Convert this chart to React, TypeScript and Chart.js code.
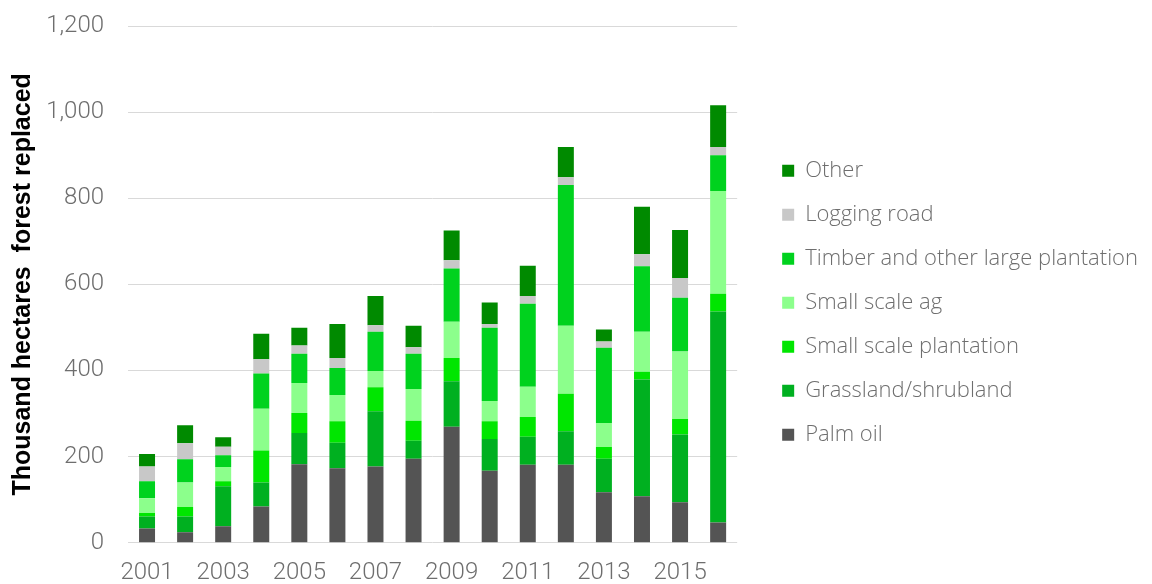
import { useEffect, useRef } from 'react';
import { Chart, registerables } from 'chart.js';

Chart.register(...registerables);

const years = ['2001', '2002', '2003', '2004', '2005', '2006', '2007', '2008', '2009', '2010', '2011', '2012', '2013', '2014', '2015', '2016'];
const xTickLabels = ['2001', '', '2003', '', '2005', '', '2007', '', '2009', '', '2011', '', '2013', '', '2015', ''];
const yTicks = [0, 200, 400, 600, 800, 1000, 1200];

const palmOil = [33, 24, 38, 84, 182, 173, 177, 195, 269, 167, 181, 181, 117, 108, 94, 47];
const grassland = [28, 37, 93, 56, 73, 59, 128, 42, 106, 74, 65, 78, 78, 271, 157, 490];
const smallPlantation = [8, 22, 12, 74, 46, 50, 56, 46, 54, 41, 46, 87, 27, 18, 36, 41];
const smallAg = [34, 57, 33, 97, 70, 61, 38, 74, 84, 47, 70, 158, 56, 93, 157, 239];
const timber = [40, 54, 27, 82, 68, 63, 91, 82, 124, 170, 193, 327, 175, 152, 125, 83];
const loggingRoad = [34, 37, 20, 33, 19, 23, 15, 15, 19, 9, 18, 18, 14, 28, 46, 19];
const other = [29, 42, 22, 59, 41, 79, 68, 50, 69, 50, 70, 70, 28, 110, 111, 97];

const seriesNames = ['Palm oil', 'Grassland/shrubland', 'Small scale plantation', 'Small scale ag', 'Timber and other large plantation', 'Logging road', 'Other'];
const seriesValues = [palmOil, grassland, smallPlantation, smallAg, timber, loggingRoad, other];
const seriesColors = ['#545454', '#00B020', '#00E600', '#8CFF8C', '#00D21E', '#C8C8C8', '#008A00'];

export default function App() {
  const ref = useRef<HTMLCanvasElement>(null);

  useEffect(() => {
    const lightFont = 'Roboto, "Noto Sans", sans-serif';
    const legendFont = '"Open Sans", Roboto, sans-serif';
    const chart = new Chart(ref.current!, {
      type: 'bar',
      data: {
        labels: years,
        datasets: seriesNames.map((name, i) => ({
          label: name,
          data: seriesValues[i],
          backgroundColor: seriesColors[i],
          borderWidth: 0,
          barPercentage: 0.42,
          categoryPercentage: 1,
        })),
      },
      options: {
        animation: false,
        responsive: false,
        maintainAspectRatio: false,
        layout: { padding: { top: 26, bottom: 16.5, left: 0, right: 4 } },
        plugins: {
          tooltip: { enabled: false },
          legend: {
            position: 'right',
            reverse: true,
            fullSize: false,
            align: 'center',
            maxWidth: 600,
            title: { display: true, text: ' ', padding: 0, font: { size: 37, lineHeight: 1 } },
            labels: {
              boxWidth: 12,
              boxHeight: 12,
              padding: 22,
              color: '#6e6e6e',
              font: { family: legendFont, size: 22, weight: '300' },
            },
          },
        },
        scales: {
          x: {
            stacked: true,
            grid: { display: false, drawTicks: false },
            border: { display: false },
            ticks: {
              autoSkip: false,
              maxRotation: 0,
              minRotation: 0,
              padding: 16,
              color: '#6e6e6e',
              font: { family: lightFont, size: 24, weight: '300' },
              callback: (_v: any, i: number) => xTickLabels[i],
            },
          },
          y: {
            stacked: true,
            min: yTicks[0],
            max: yTicks[yTicks.length - 1],
            afterBuildTicks: (s: any) => {
              s.ticks = yTicks.map((v) => ({ value: v }));
            },
            afterFit: (s: any) => {
              s.width = 128;
            },
            grid: { color: '#d9d9d9', lineWidth: 1, drawTicks: true, tickLength: 21, tickColor: 'rgba(0,0,0,0)' },
            border: { display: false },
            ticks: {
              padding: 3,
              color: '#6e6e6e',
              font: { family: lightFont, size: 24, weight: '300' },
              callback: (v: any) => Number(v).toLocaleString('en-US'),
            },
            title: {
              display: true,
              text: 'Thousand hectares  forest replaced',
              color: '#000000',
              padding: { top: 8, bottom: 0 },
              font: { family: '"Liberation Sans", Arial, sans-serif', size: 25, weight: 'bold' },
            },
          },
          y2: {
            position: 'right',
            display: true,
            grid: { display: false },
            border: { display: false },
            ticks: { display: false },
            afterFit: (s: any) => {
              s.width = 23;
            },
          },
        },
      },
    });
    return () => chart.destroy();
  }, []);

  return (
    <div style={{ position: 'fixed', left: 0, top: 0, width: 1152, height: 584, overflow: 'hidden', background: '#fff' }}>
      <canvas ref={ref} width={1152} height={620} style={{ display: 'block', width: 1152, height: 620 }} />
    </div>
  );
}
